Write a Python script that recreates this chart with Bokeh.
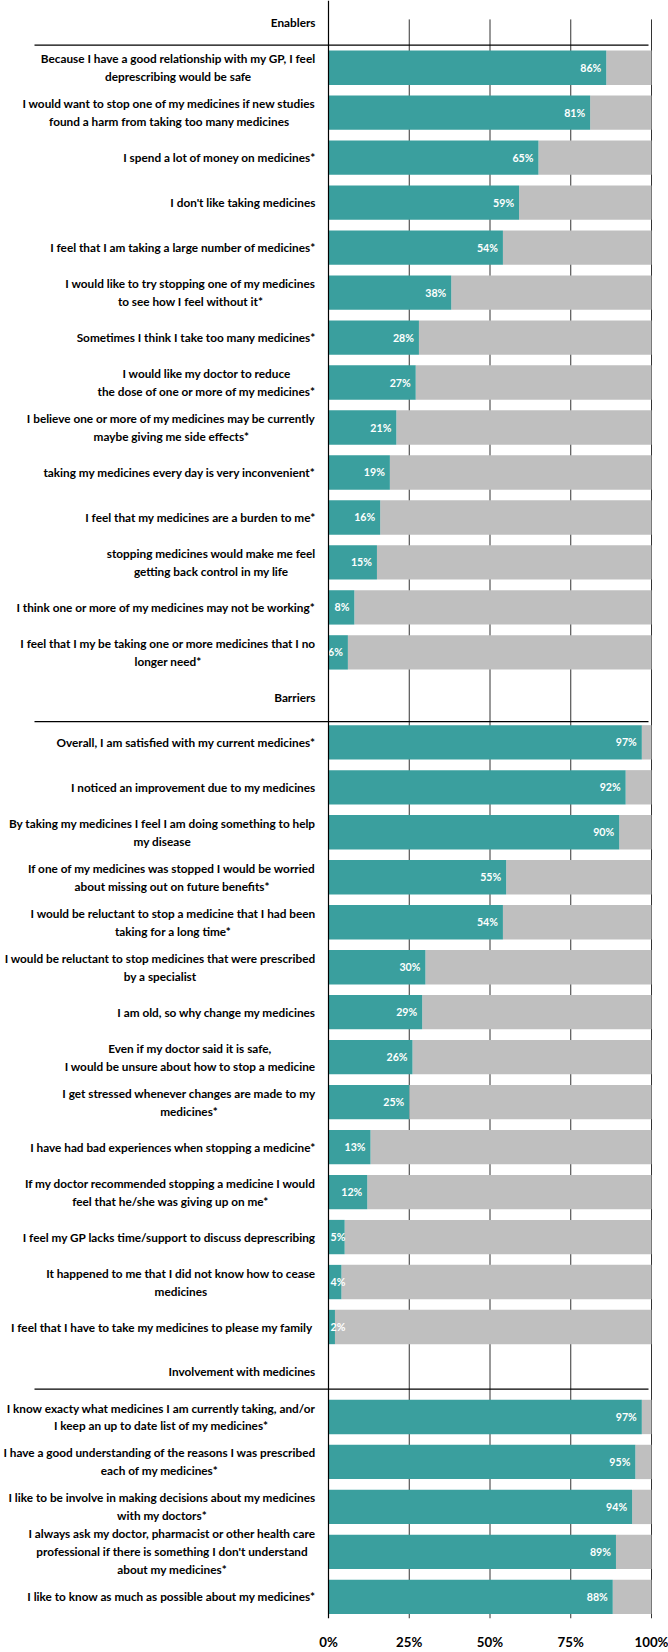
import glob
import os

from bokeh.core.properties import value
from bokeh.embed import file_html
from bokeh.models import ColumnDataSource, FixedTicker, PrintfTickFormatter, Range1d, Span
from bokeh.plotting import figure
from bokeh.resources import INLINE

# ---------------- data ----------------
group_titles = ["Enablers", "Barriers", "Involvement with medicines"]

enabler_labels = [
    "Because I have a good relationship with my GP, I feel\ndeprescribing would be safe",
    "I would want to stop one of my medicines if new studies\nfound a harm from taking too many medicines",
    "I spend a lot of money on medicines*",
    "I don't like taking medicines",
    "I feel that I am taking a large number of medicines*",
    "I would like to try stopping one of my medicines\nto see how I feel without it*",
    "Sometimes I think I take too many medicines*",
    "I would like my doctor to reduce\nthe dose of one or more of my medicines*",
    "I believe one or more of my medicines may be currently\nmaybe giving me side effects*",
    "taking my medicines every day is very inconvenient*",
    "I feel that my medicines are a burden to me*",
    "stopping medicines would make me feel\ngetting back control in my life",
    "I think one or more of my medicines may not be working*",
    "I feel that I my be taking one or more medicines that I no\nlonger need*",
]
enabler_values = [86, 81, 65, 59, 54, 38, 28, 27, 21, 19, 16, 15, 8, 6]

barrier_labels = [
    "Overall, I am satisfied with my current medicines*",
    "I noticed an improvement due to my medicines",
    "By taking my medicines I feel I am doing something to help\nmy disease",
    "If one of my medicines was stopped I would be worried\nabout missing out on future benefits*",
    "I would be reluctant to stop a medicine that I had been\ntaking for a long time*",
    "I would be reluctant to stop medicines that were prescribed\nby a specialist",
    "I am old, so why change my medicines",
    "Even if my doctor said it is safe,\nI would be unsure about how to stop a medicine",
    "I get stressed whenever changes are made to my\nmedicines*",
    "I have had bad experiences when stopping a medicine*",
    "If my doctor recommended stopping a medicine I would\nfeel that he/she was giving up on me*",
    "I feel my GP lacks time/support to discuss deprescribing",
    "It happened to me that I did not know how to cease\nmedicines",
    "I feel that I have  to take my medicines to please my family",
]
barrier_values = [97, 92, 90, 55, 54, 30, 29, 26, 25, 13, 12, 5, 4, 2]

involvement_labels = [
    "I know exacty what medicines I am currently taking, and/or\nI keep an up to date list of my medicines*",
    "I have a good understanding of the reasons I was prescribed\neach of my medicines*",
    "I like to be involve in making decisions about my medicines\nwith my doctors*",
    "I always ask my doctor, pharmacist or other health care\nprofessional if there is something I don't understand\nabout my medicines*",
    "I like to know as much as possible about my medicines*",
]
involvement_values = [97, 95, 94, 89, 88]

x_ticks = [0, 25, 50, 75, 100]

# ---------------- styling / layout constants ----------------
TEAL = "#3A9F9E"
GREY = "#BFBFBF"
FIG_W, FIG_H = 668, 1652
PAGE_OFF = 0                 # bokeh's page template has no body margin
AXIS_PX = 328                # screen x of 0 %
PX_PER_PCT = 3.23            # 323 px for 100 %
PITCH = 45.17                # px per row
ROW0_TOP = -0.26             # screen y of the top of the first row
FRAME_BOTTOM = 1625          # screen y of the plot bottom
BOTTOM_BORDER = PAGE_OFF + FIG_H - FRAME_BOTTOM
LABEL_RIGHT_PX = 315
LABEL_MAX_W = 312
LINE_GAP_PX = 18
BAR_H = 0.764


def xd(px):
    return (px - AXIS_PX) / PX_PER_PCT


def yd(px):
    return (px - ROW0_TOP) / PITCH - 0.5


# ---------------- font selection & measurement ----------------
font_candidates = [
    ("Lato", ["Lato-Bold.ttf", "Lato-Bol.ttf"]),
    ("Liberation Sans", ["LiberationSans-Bold.ttf"]),
    ("DejaVu Sans", ["DejaVuSans-Bold.ttf"]),
]


def find_font(names):
    roots = ["/usr/share/fonts", "/usr/local/share/fonts",
             os.path.expanduser("~/.fonts"), os.path.expanduser("~/.local/share/fonts")]
    for fname in names:
        for r in roots:
            hits = glob.glob(os.path.join(r, "**", fname), recursive=True)
            if hits:
                return hits[0]
    return None


FONT = "Liberation Sans"
measure = None
try:
    from PIL import ImageFont
    for fam, names in font_candidates:
        path = find_font(names)
        if path:
            FONT = fam
            _f = ImageFont.truetype(path, 100)
            measure = lambda s, size, _f=_f: _f.getlength(s) * size / 100.0
            break
except Exception:
    measure = None
if measure is None:
    measure = lambda s, size: len(s) * 0.58 * size

all_labels = enabler_labels + barrier_labels + involvement_labels
longest = max((ln for lab in all_labels for ln in lab.split("\n")), key=lambda s: measure(s, 100))
LABEL_SIZE = 100 * LABEL_MAX_W / measure(longest, 100)
VALUE_SIZE = 100 * 21.0 / measure("88%", 100)
TICK_SIZE = 100 * 34.0 / measure("100%", 100)

# ---------------- assemble rows ----------------
rows = []  # (kind, text, value)
for title, labs, vals in [(group_titles[0], enabler_labels, enabler_values),
                          (group_titles[1], barrier_labels, barrier_values),
                          (group_titles[2], involvement_labels, involvement_values)]:
    rows.append(("title", title, None))
    for lab, v in zip(labs, vals):
        rows.append(("item", lab, v))

bar_y, bar_v = [], []
line_x, line_y, line_t = [], [], []
title_y, title_t = [], []
sep_rows = []
for i, (kind, text, v) in enumerate(rows):
    if kind == "title":
        title_y.append(i)
        title_t.append(text)
        sep_rows.append(i + 0.5)
        continue
    bar_y.append(i)
    bar_v.append(v)
    lines = text.split("\n")
    block_w = max(measure(ln, LABEL_SIZE) for ln in lines)
    cx = xd(LABEL_RIGHT_PX - block_w / 2.0)
    n = len(lines)
    for j, ln in enumerate(lines):
        line_x.append(cx)
        line_y.append(i + (j - (n - 1) / 2.0) * LINE_GAP_PX / PITCH)
        line_t.append(ln)

bars = ColumnDataSource(dict(y=bar_y, v=bar_v, full=[100] * len(bar_v)))
labels_src = ColumnDataSource(dict(x=line_x, y=line_y, t=line_t))
titles_src = ColumnDataSource(dict(x=[xd(LABEL_RIGHT_PX)] * len(title_y), y=title_y, t=title_t))

inside_cut = 6
vin = [(y, v) for y, v in zip(bar_y, bar_v) if v >= inside_cut]
vsm = [(y, v) for y, v in zip(bar_y, bar_v) if v < inside_cut]
val_in = ColumnDataSource(dict(x=[v - 5 / PX_PER_PCT for _, v in vin], y=[y for y, _ in vin],
                               t=[f"{v}%" for _, v in vin]))
val_sm = ColumnDataSource(dict(x=[2 / PX_PER_PCT for _ in vsm], y=[y for y, _ in vsm],
                               t=[f"{v}%" for _, v in vsm]))

# ---------------- figure ----------------
p = figure(width=FIG_W, height=FIG_H,
           x_range=Range1d(xd(PAGE_OFF), xd(PAGE_OFF + FIG_W)),
           y_range=Range1d(yd(FRAME_BOTTOM), yd(PAGE_OFF)),
           y_axis_location=None, x_axis_location="below",
           output_backend="svg", toolbar_location=None,
           min_border_left=0, min_border_right=0, min_border_top=0,
           min_border_bottom=BOTTOM_BORDER)
p.outline_line_color = None
for g in p.grid:
    g.visible = False
p.background_fill_color = "white"
p.border_fill_color = "white"

# grid lines (start a little below the top like the original)
grid_x = [t for t in x_ticks if t > 0]
p.segment(x0=grid_x, x1=grid_x, y0=[yd(19)] * len(grid_x), y1=[yd(FRAME_BOTTOM)] * len(grid_x),
          line_color="#333333", line_width=1)

# bars
p.hbar(y="y", left="v", right="full", height=BAR_H, source=bars, fill_color=GREY, line_color=None)
p.hbar(y="y", left=0, right="v", height=BAR_H, source=bars, fill_color=TEAL, line_color=None)

# axis line at 0 %
p.add_layout(Span(location=0, dimension="height", line_color="black", line_width=1.2))

# group separators
sep_offsets = [0.0, 0.04, -0.12]
sep_y = [r + o for r, o in zip(sep_rows, sep_offsets)]
p.segment(x0=[xd(34)] * 3, x1=[xd(648)] * 3, y0=sep_y, y1=sep_y, line_color="black", line_width=1.3)

# value labels
p.text(x="x", y="y", text="t", source=val_in, text_align="right", text_baseline="middle",
       text_color="white", text_font=value(FONT), text_font_style="bold",
       text_font_size=f"{VALUE_SIZE:.2f}px")
p.text(x="x", y="y", text="t", source=val_sm, text_align="left", text_baseline="middle",
       text_color="white", text_font=value(FONT), text_font_style="bold",
       text_font_size=f"{VALUE_SIZE:.2f}px")

# category labels
p.text(x="x", y="y", text="t", source=labels_src, text_align="center", text_baseline="middle",
       text_color="black", text_font=value(FONT), text_font_style="bold",
       text_font_size=f"{LABEL_SIZE:.2f}px")
p.text(x="x", y="y", text="t", source=titles_src, text_align="right", text_baseline="middle",
       text_color="black", text_font=value(FONT), text_font_style="bold",
       text_font_size=f"{LABEL_SIZE:.2f}px")

# x axis
ax = p.xaxis[0]
ax.ticker = FixedTicker(ticks=x_ticks)
ax.formatter = PrintfTickFormatter(format="%d%%")
ax.axis_line_color = None
ax.major_tick_line_color = None
ax.minor_tick_line_color = None
ax.major_label_standoff = 9
ax.major_label_text_font = FONT
ax.major_label_text_font_style = "bold"
ax.major_label_text_font_size = f"{TICK_SIZE:.2f}px"
ax.major_label_text_color = "black"

open("out.html", "w").write(file_html(p, INLINE))
